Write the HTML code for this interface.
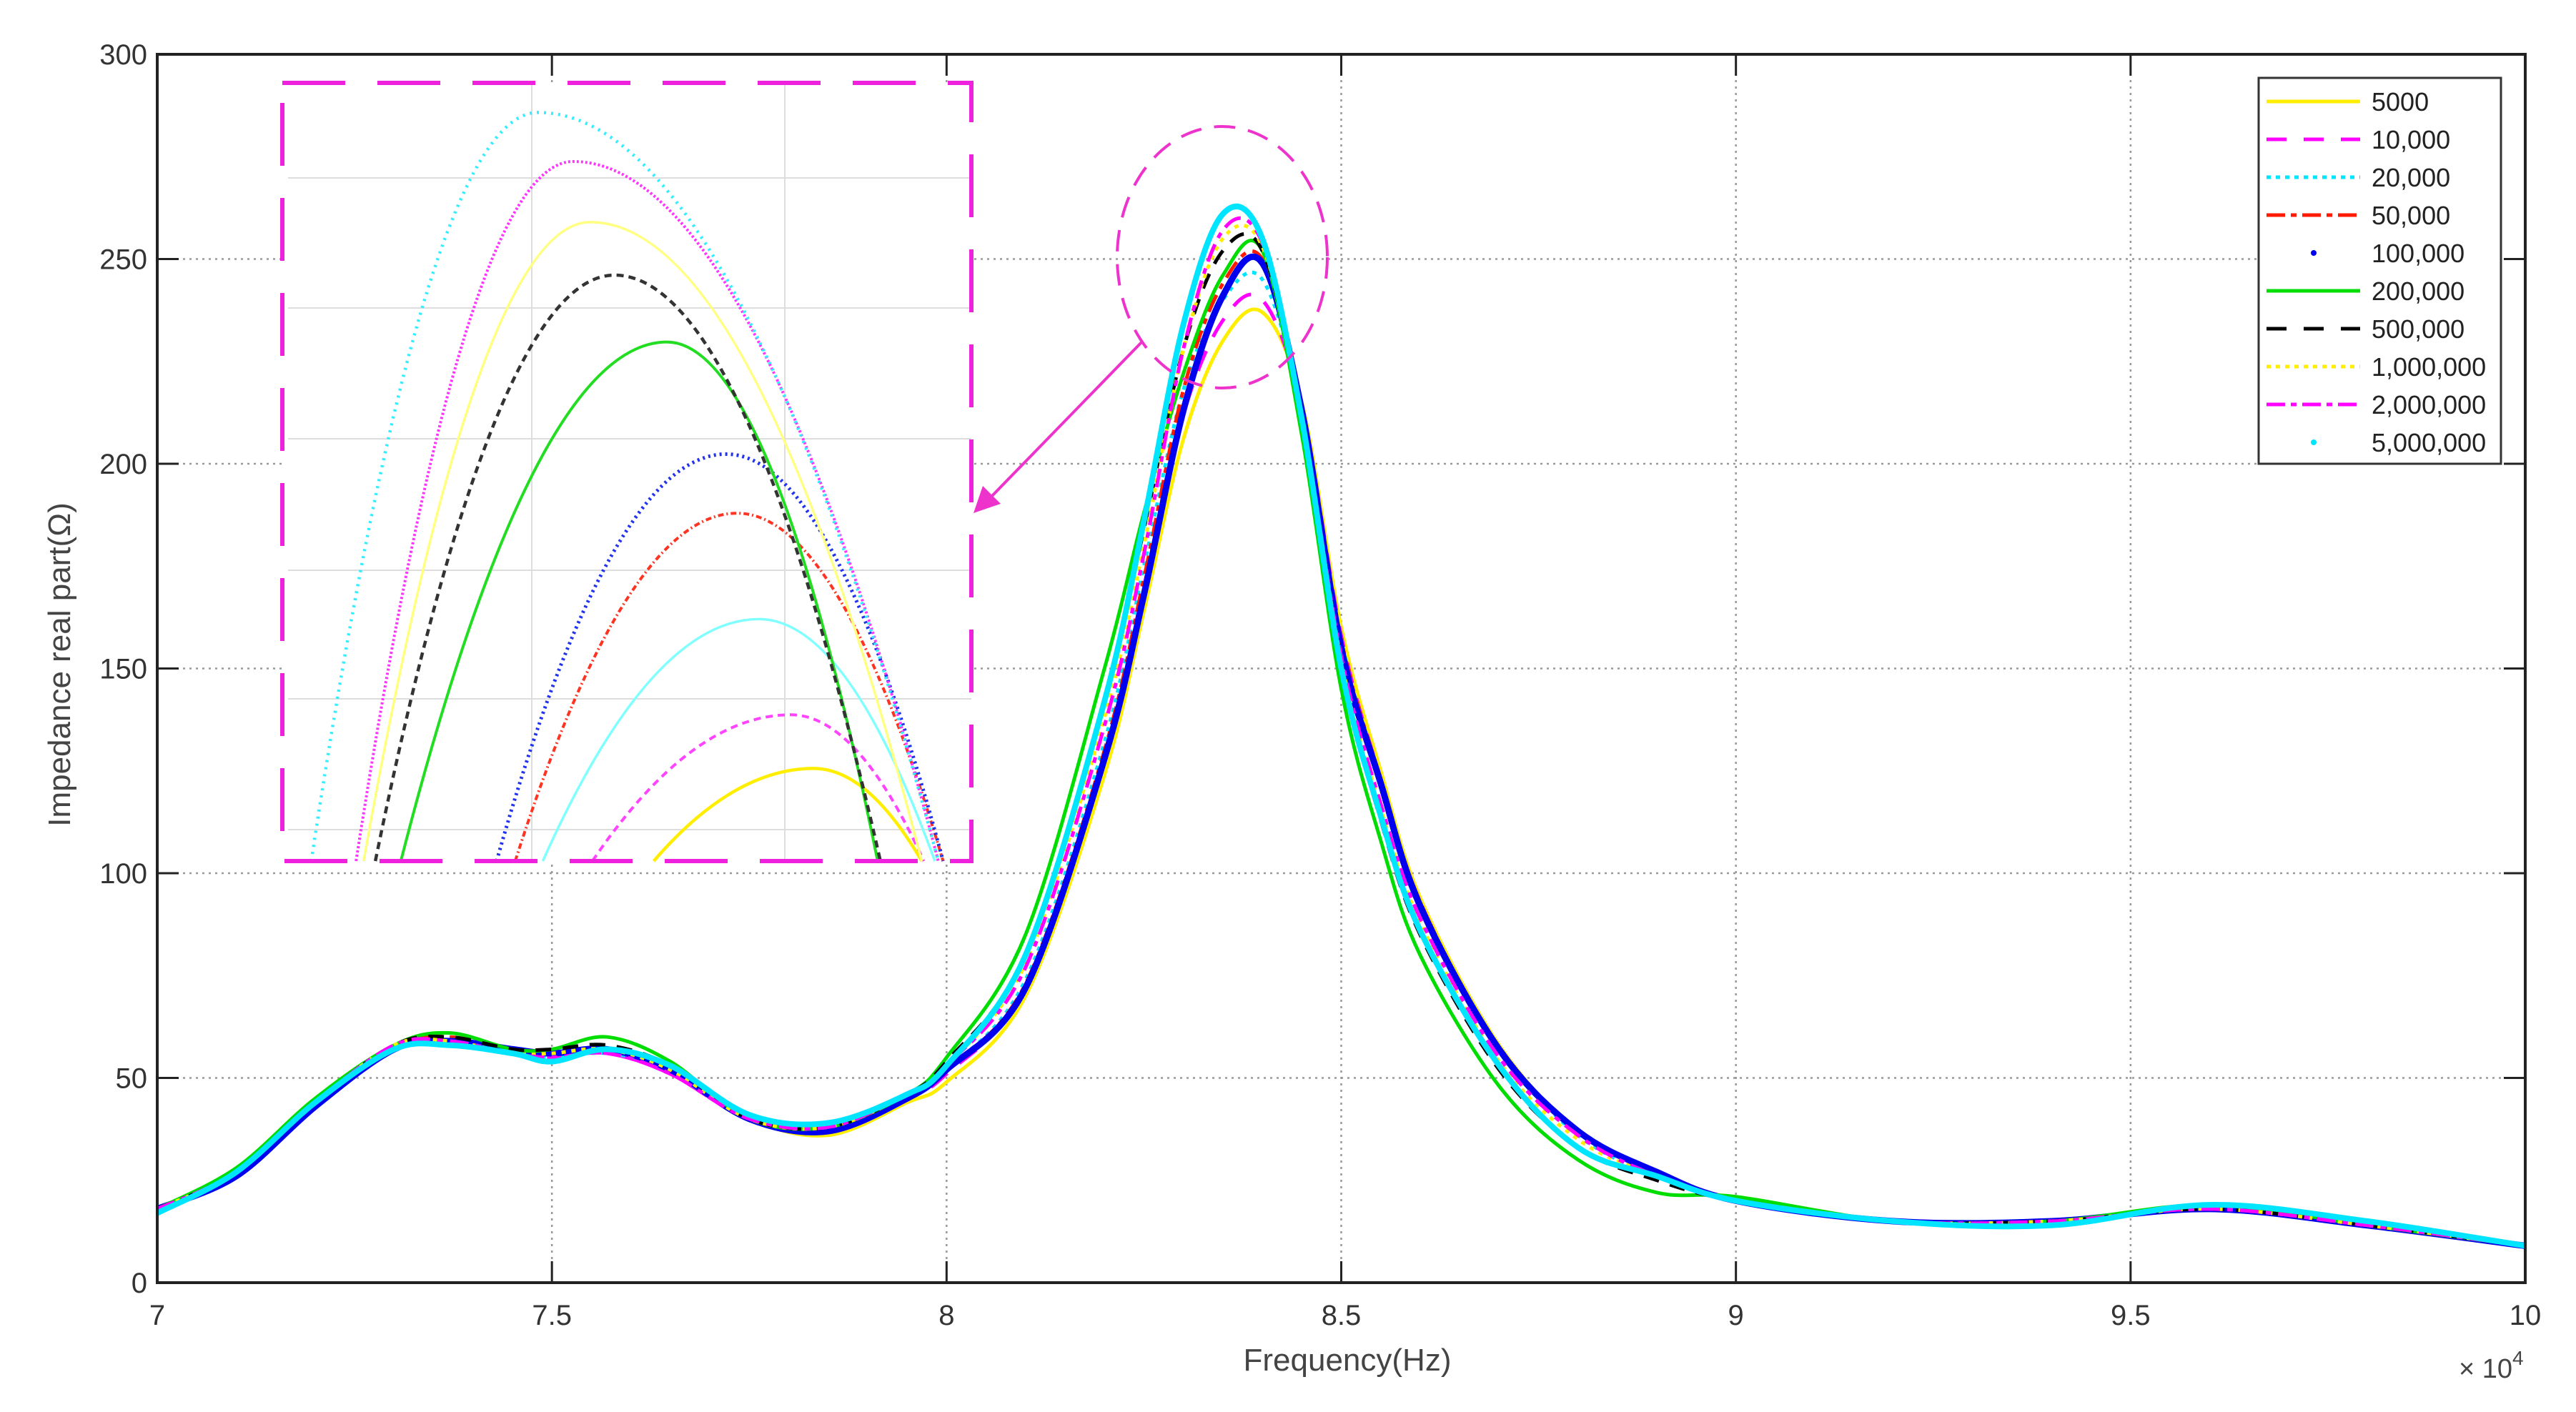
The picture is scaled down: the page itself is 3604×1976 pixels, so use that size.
<!DOCTYPE html>
<html><head><meta charset="utf-8"><style>
html,body{margin:0;padding:0;background:#fff;}
svg{display:block;font-family:"Liberation Sans",sans-serif;}
</style></head><body>
<svg id="chart" width="3604" height="1976" viewBox="0 0 3604 1976" xmlns="http://www.w3.org/2000/svg">
<rect width="3604" height="1976" fill="#fff"/>
<g id="grid"></g>
<g id="series"></g>
<g id="inset"></g>
<g id="axes"></g>
<g id="legend"></g>
</svg>
<script>
const freqs = [7.0,7.1,7.2,7.3,7.37,7.45,7.5,7.57,7.65,7.75,7.85,7.95,8.0,8.1,8.2,8.25,8.3,8.35,8.4,8.45,8.5,8.55,8.6,8.7,8.8,8.9,9.0,9.2,9.4,9.6,9.8,10.0];
const seriesNames = ["5000","10,000","20,000","50,000","100,000","200,000","500,000","1,000,000","2,000,000","5,000,000"];
const s5000    = [18,26,43,57,59,56,56,57,52,40,36,44,49,70,124,164,206,230,237,215,160,125,94,58,37,27,20,15,15,18,14,9];
const s10000   = [18,27,44,58,59,56,55,56,51,40,38,45,51,72,128,170,212,235,240,214,158,123,93,57,37,27,20,15,15,18,14,9];
const s20000   = [18,27,44,58,59,56,55,56,52,40,38,46,52,74,132,175,218,240,245,213,157,122,92,57,36,26,20,15,15,18,14,9];
const s50000   = [18,27,44,58,60,57,56,57,52,40,37,45,52,73,130,172,218,244,250,214,157,123,93,57,37,27,20,15,15,18,14,9];
const s100000  = [18,26,43,57,59,57,56,57,52,40,37,45,52,72,128,168,213,241,249,213,155,122,92,57,37,27,20,15,15,18,14,9];
const s200000  = [18,28,45,58,61,57,57,60,54,40,38,46,55,85,150,188,222,246,252,207,145,108,80,48,30,22,21,15,15,19,14,9];
const s500000  = [18,27,44,58,60,57,57,58,53,40,38,46,54,80,142,184,228,252,252,211,150,113,85,52,33,25,20,15,15,18,14,9];
const s1000000 = [18,27,44,58,59,56,56,57,52,40,38,46,53,78,138,180,228,255,253,212,152,116,88,54,35,26,20,15,15,18,14,9];
const s2000000 = [18,27,44,58,59,56,55,56,51,40,38,46,53,77,136,178,228,257,254,212,153,117,89,55,36,26,20,15,15,18,14,9];
const s5000000 = [17,27,44,57,58,56,54,57,53,41,39,46,53,80,142,186,234,261,255,211,150,114,86,53,33,26,20,15,14,19,15,9];
const xTicks = [7,7.5,8,8.5,9,9.5,10];
const xTickLabels = ["7","7.5","8","8.5","9","9.5","10"];
const yTicks = [0,50,100,150,200,250,300];
const yTickLabels = ["0","50","100","150","200","250","300"];
// inset arcs: left root, peak x, peak height, right root (inset units 0..100)
const insetLeft  = [53.9,45.0,37.8,33.8,31.1,17.2,13.5,11.8,10.7,4.2];
const insetPeakX = [77.1,73.8,69.2,66.0,64.4,55.8,48.2,44.7,42.2,37.1];
const insetPeakY = [11.9,18.8,31.1,44.7,52.3,66.7,75.3,82.1,89.9,96.2];
const insetRight = [92.8,93.1,94.7,95.9,95.9,86.4,86.8,92.8,95.2,95.2];

const NS="http://www.w3.org/2000/svg";
const L=220,R=3533,T=76,B=1795;
const X=f=>L+(f-7)/3*(R-L);
const Y=v=>B-v/300*(B-T);
const IL=395,IR=1359,IT=116,IB=1205;
const IX=u=>IL+u/100*(IR-IL);
const IY=u=>IB-u/100*(IB-IT);
function mk(tag,attrs,parent){const e=document.createElementNS(NS,tag);for(const k in attrs)e.setAttribute(k,attrs[k]);parent.appendChild(e);return e;}
const styles=[
 {c:"#ffee00",w:5,d:""},{c:"#ff00ff",w:5,d:"30 22"},{c:"#00e5ff",w:5,d:"6 8"},{c:"#ff1a00",w:5,d:"26 10 8 10"},
 {c:"#0000ee",w:9,d:""},{c:"#00dd00",w:5,d:""},{c:"#000000",w:5,d:"22 16"},{c:"#ffee00",w:5,d:"6 8"},
 {c:"#ff00ff",w:5,d:"26 10 8 10"},{c:"#00e5ff",w:8,d:""}];
const data=[s5000,s10000,s20000,s50000,s100000,s200000,s500000,s1000000,s2000000,s5000000];
const grid=document.getElementById('grid');
yTicks.forEach((t,i)=>{if(t>0&&t<300){const e=mk('line',{x1:L,x2:R,y1:Y(t),y2:Y(t),stroke:"#999","stroke-width":2.5,"stroke-dasharray":"3 6"},grid);

}});
xTicks.forEach(t=>{if(t>7&&t<10){const e=mk('line',{x1:X(t),x2:X(t),y1:T,y2:B,stroke:"#999","stroke-width":2.5,"stroke-dasharray":"3 6"},grid);

}});
function smooth(pts){let d="M"+pts[0][0]+","+pts[0][1];for(let i=0;i<pts.length-1;i++){const p0=pts[Math.max(0,i-1)],p1=pts[i],p2=pts[i+1],p3=pts[Math.min(pts.length-1,i+2)];
const c1=[p1[0]+(p2[0]-p0[0])/6,p1[1]+(p2[1]-p0[1])/6],c2=[p2[0]-(p3[0]-p1[0])/6,p2[1]-(p3[1]-p1[1])/6];
d+=" C"+c1[0].toFixed(1)+","+c1[1].toFixed(1)+" "+c2[0].toFixed(1)+","+c2[1].toFixed(1)+" "+p2[0].toFixed(1)+","+p2[1].toFixed(1);}return d;}
const sg=document.getElementById('series');
data.forEach((arr,i)=>{const pts=freqs.map((f,j)=>[X(f),Y(arr[j])]);const st=styles[i];
const p=mk('path',{d:smooth(pts),fill:"none",stroke:st.c,"stroke-width":st.w,"stroke-dasharray":st.d,"stroke-linejoin":"round"},sg);

});
// inset
const ins=document.getElementById('inset');
mk('rect',{x:IL,y:IT,width:IR-IL,height:IB-IT,fill:"#fff"},ins);
[249,431,614,798,978,1161].forEach(y=>{const e=mk('line',{x1:IL+8,x2:IR,y1:y,y2:y,stroke:"#ddd","stroke-width":2},ins);

});
[744,1098].forEach(x=>{const e=mk('line',{x1:x,x2:x,y1:IT,y2:IB,stroke:"#ddd","stroke-width":2},ins);

});
const istyles=[{c:"#ffee00",w:4.5,d:""},{c:"#ff44ff",w:4,d:"10 7"},{c:"#80ffff",w:3.5,d:""},{c:"#ff3322",w:4,d:"8 4 2 4"},{c:"#2233ee",w:5,d:"3 5"},
 {c:"#22dd22",w:4,d:""},{c:"#333",w:4.5,d:"10 7"},{c:"#ffff80",w:3.5,d:""},{c:"#ff33ff",w:4,d:"3 3"},{c:"#33eeff",w:4.5,d:"3 7"}];
insetLeft.forEach((l,i)=>{const px=IX(insetPeakX[i]),py=IY(insetPeakY[i]),lx=IX(l),rx=IX(insetRight[i]),by=IY(0);
const d="M"+lx+","+by+" Q"+((lx+px)/2)+","+py+" "+px+","+py+" Q"+((px+rx)/2)+","+py+" "+rx+","+by;
const st=istyles[i];
const p=mk('path',{d:d,fill:"none",stroke:st.c,"stroke-width":st.w,"stroke-dasharray":st.d},ins);

});
const ib=mk('rect',{x:IL,y:IT,width:IR-IL,height:IB-IT,fill:"none",stroke:"#ee22dd","stroke-width":6,"stroke-dasharray":"88 45"},ins);


const el=mk('ellipse',{cx:1710,cy:360,rx:147,ry:183,fill:"none",stroke:"#ee33cc","stroke-width":4,"stroke-dasharray":"30 18"},ins);


const ar=mk('line',{x1:1598,y1:478,x2:1385,y2:697,stroke:"#ee33cc","stroke-width":4},ins);


const ah=mk('polygon',{points:"1362,718 1375,680 1400,705",fill:"#ee33cc"},ins);


// axes
const ax=document.getElementById('axes');
const fr=mk('rect',{x:L,y:T,width:R-L,height:B-T,fill:"none",stroke:"#222","stroke-width":4},ax);


yTicks.forEach((t,i)=>{mk('line',{x1:L,x2:L+30,y1:Y(t),y2:Y(t),stroke:"#222","stroke-width":3},ax);mk('line',{x1:R-30,x2:R,y1:Y(t),y2:Y(t),stroke:"#222","stroke-width":3},ax);
const tx=mk('text',{x:L-14,y:Y(t)+14,"text-anchor":"end","font-size":40,fill:"#333"},ax);tx.textContent=yTickLabels[i];

});
xTicks.forEach((t,i)=>{mk('line',{x1:X(t),x2:X(t),y1:B,y2:B-30,stroke:"#222","stroke-width":3},ax);mk('line',{x1:X(t),x2:X(t),y1:T,y2:T+30,stroke:"#222","stroke-width":3},ax);
const tx=mk('text',{x:X(t),y:1854,"text-anchor":"middle","font-size":40,fill:"#333"},ax);tx.textContent=xTickLabels[i];

});
const xt=mk('text',{x:1885,y:1918,"text-anchor":"middle","font-size":44,fill:"#444"},ax);xt.textContent="Frequency(Hz)";


const yt=mk('text',{x:0,y:0,"text-anchor":"middle","font-size":44,fill:"#444",transform:"translate(98,930) rotate(-90)"},ax);yt.textContent="Impedance real part(Ω)";


const ex=mk('text',{x:3440,y:1928,"font-size":38,fill:"#444"},ax);ex.innerHTML='× 10<tspan dy="-18" font-size="28">4</tspan>';


// legend
const lg=document.getElementById('legend');
const lb=mk('rect',{x:3160,y:109,width:339,height:540,fill:"#fff",stroke:"#333","stroke-width":3},lg);


seriesNames.forEach((n,i)=>{const y=142+i*53;const st=styles[i];const g=mk('g',{},lg);


if(i===4||i===9){mk('circle',{cx:3237,cy:y,r:4,fill:st.c},g);}
else{mk('line',{x1:3171,x2:3302,y1:y,y2:y,stroke:st.c,"stroke-width":5,"stroke-dasharray":st.d==="6 8"?"6 7":(st.d==="22 16"||st.d==="30 22"?"28 24":(st.d?"26 8 8 8":""))},g);}
const t=mk('text',{x:3318,y:y+13,"font-size":36,fill:"#222"},g);t.textContent=n;});
</script>
</body></html>
